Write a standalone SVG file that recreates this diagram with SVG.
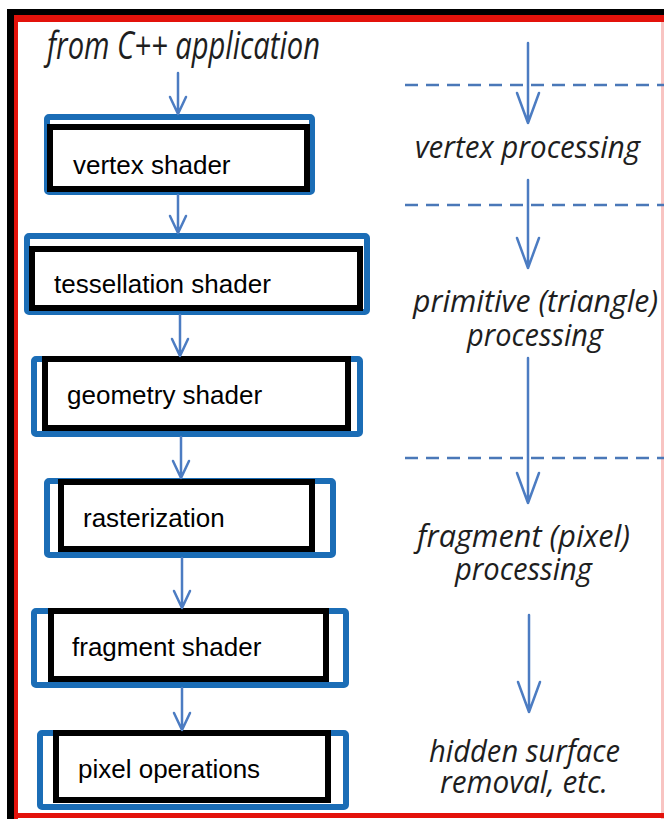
<svg xmlns="http://www.w3.org/2000/svg" width="664" height="819" viewBox="0 0 664 819">
  <defs>
    <style>
      .frame-black { fill: none; stroke: #000; }
      .frame-red { fill: none; stroke: #e3120b; }
      .outer { fill: none; stroke: #1b6db6; stroke-width: 6; }
      .inner { fill: #fff; stroke: #000; stroke-width: 6; }
      .label { font-family: "Liberation Sans", Arial, sans-serif; font-size: 26px; fill: #000; }
      .note { font-family: "Open Sans", "Noto Sans", sans-serif; font-style: italic; font-size: 31px; fill: #1e1e1e; }
      .title { font-size: 38px; }
      .flow { fill: none; stroke: #4c7cc2; stroke-width: 2.5; stroke-linecap: round; stroke-linejoin: round; }
      .divider { fill: none; stroke: #4a78b8; stroke-width: 2.5; stroke-dasharray: 13 8; }
    </style>
  </defs>

  <rect x="0" y="0" width="664" height="819" fill="#fff"/>

  <!-- page frame -->
  <g id="frame">
    <line class="frame-black" x1="7" y1="12" x2="664" y2="12" stroke-width="6"/>
    <line class="frame-black" x1="10.5" y1="9" x2="10.5" y2="819" stroke-width="7"/>
    <line class="frame-red" x1="14" y1="18.5" x2="664" y2="18.5" stroke-width="7"/>
    <line class="frame-red" x1="16" y1="15" x2="16" y2="819" stroke-width="4"/>
    <line class="frame-red" x1="14" y1="815.5" x2="664" y2="815.5" stroke-width="5"/>
    <line class="frame-red" x1="662.5" y1="15" x2="662.5" y2="819" stroke-width="3" opacity="0.25"/>
  </g>

  <!-- source label -->
  <g id="source">
    <text class="note title" x="47" y="59" textLength="273" lengthAdjust="spacingAndGlyphs">from C++ application</text>
  </g>

  <!-- pipeline stages -->
  <g id="vertex-shader">
    <rect class="outer" x="47" y="117" width="265" height="75" rx="2"/>
    <rect class="inner" x="50" y="127" width="257" height="62"/>
    <text class="label" x="73" y="174">vertex shader</text>
  </g>
  <g id="tessellation-shader">
    <rect class="outer" x="27" y="236" width="340" height="76" rx="2"/>
    <rect class="inner" x="32" y="249" width="328" height="59"/>
    <text class="label" x="54" y="293">tessellation shader</text>
  </g>
  <g id="geometry-shader">
    <rect class="outer" x="34" y="359" width="326" height="75" rx="2"/>
    <rect class="inner" x="45" y="359" width="303" height="69"/>
    <text class="label" x="67" y="404">geometry shader</text>
  </g>
  <g id="rasterization">
    <rect class="outer" x="47" y="481" width="286" height="74" rx="2"/>
    <rect class="inner" x="61" y="482" width="251" height="67"/>
    <text class="label" x="83" y="527">rasterization</text>
  </g>
  <g id="fragment-shader">
    <rect class="outer" x="34" y="611" width="312" height="74" rx="2"/>
    <rect class="inner" x="51" y="611" width="275" height="68"/>
    <text class="label" x="72" y="656">fragment shader</text>
  </g>
  <g id="pixel-operations">
    <rect class="outer" x="40" y="733" width="306" height="74" rx="2"/>
    <rect class="inner" x="56" y="733" width="272" height="67"/>
    <text class="label" x="78" y="778">pixel operations</text>
  </g>

  <!-- stage descriptions -->
  <g id="vertex-processing">
    <text class="note" x="415" y="158" textLength="225" lengthAdjust="spacingAndGlyphs">vertex processing</text>
  </g>
  <g id="primitive-processing">
    <text class="note" x="413" y="312" textLength="245" lengthAdjust="spacingAndGlyphs">primitive (triangle)</text>
    <text class="note" x="467" y="346" textLength="136" lengthAdjust="spacingAndGlyphs">processing</text>
  </g>
  <g id="fragment-processing">
    <text class="note" x="417" y="547" textLength="213" lengthAdjust="spacingAndGlyphs">fragment (pixel)</text>
    <text class="note" x="455" y="580" textLength="137" lengthAdjust="spacingAndGlyphs">processing</text>
  </g>
  <g id="hidden-surface-removal">
    <text class="note" x="429" y="762" textLength="191" lengthAdjust="spacingAndGlyphs">hidden surface</text>
    <text class="note" x="440" y="793" textLength="168" lengthAdjust="spacingAndGlyphs">removal, etc.</text>
  </g>

  <!-- connectors -->
  <g id="connectors">
    <!-- left column flow -->
    <path class="flow" d="M178 73 V114 M170 97 L178 114 L186 97"/>
    <path class="flow" d="M178 195 V233 M170 216 L178 233 L186 216"/>
    <path class="flow" d="M180 315 V356 M172 339 L180 356 L188 339"/>
    <path class="flow" d="M181 437 V478 M173 461 L181 478 L189 461"/>
    <path class="flow" d="M182 558 V608 M174 591 L182 608 L190 591"/>
    <path class="flow" d="M182 688 V730 M174 713 L182 730 L190 713"/>

    <!-- right column flow -->
    <path class="flow" d="M528 43 V123 M517 93 L528 123 L539 93"/>
    <path class="flow" d="M528 180 V268 M517 238 L528 268 L539 238"/>
    <path class="flow" d="M528 358 V503 M517 473 L528 503 L539 473"/>
    <path class="flow" d="M529 615 V712 M518 682 L529 712 L540 682"/>

    <!-- stage dividers -->
    <line class="divider" x1="405" y1="85" x2="664" y2="85"/>
    <line class="divider" x1="405" y1="205" x2="664" y2="205"/>
    <line class="divider" x1="405" y1="458" x2="664" y2="458"/>
  </g>
</svg>
